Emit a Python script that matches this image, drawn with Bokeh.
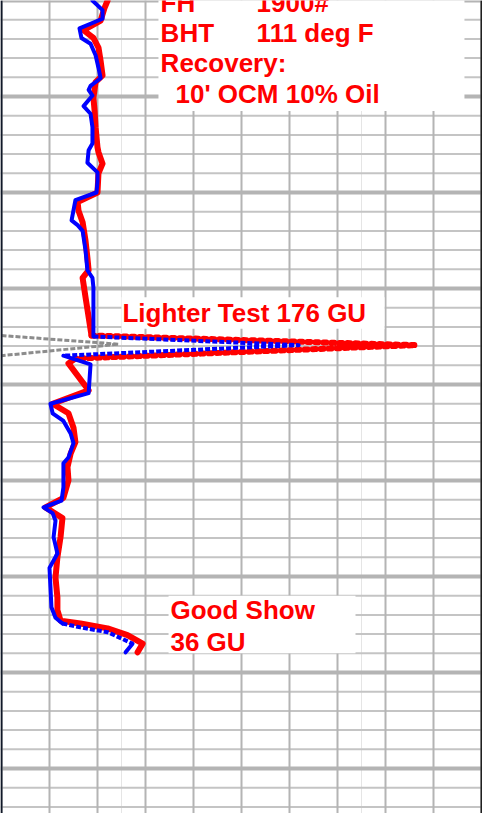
from bokeh.plotting import figure
from bokeh.models import Range1d, Span, ColumnDataSource
from bokeh.core.properties import value
from bokeh.embed import file_html
from bokeh.resources import INLINE

# ---- data (gas units vs depth, ft) ----
blue_gas = [37.9, 42.1, 42.1, 32.5, 33.3, 37.1, 39.2, 40.4, 41.3, 37.1, 36.3, 37.9, 34.2, 37.1,
            37.9, 37.9, 36.3, 35.8, 40.0, 40.0, 39.6, 30.8, 29.2, 31.7, 33.8, 35.0, 35.8, 37.9,
            38.3, 38.3, 123.8, 25.8, 37.1, 36.3, 20.4, 21.3, 25.8, 28.8, 30.0, 27.9, 25.8, 25.8,
            25.0, 17.5, 21.3, 22.5, 21.7, 23.3, 20.0, 20.4, 20.8, 22.5, 25.4, 32.9, 44.2, 50.4,
            54.6, 51.7]
blue_depth = [4250.0, 4251.0, 4251.9, 4252.9, 4253.9, 4254.5, 4255.7, 4257.0, 4258.1, 4258.9,
              4259.3, 4259.9, 4261.0, 4261.8, 4263.2, 4264.9, 4265.6, 4266.9, 4267.9, 4268.8,
              4270.0, 4270.8, 4272.9, 4273.4, 4274.0, 4276.0, 4278.1, 4278.9, 4279.9, 4285.0,
              4285.9, 4287.0, 4287.9, 4290.9, 4292.0, 4293.0, 4293.8, 4295.1, 4296.1, 4297.6,
              4298.2, 4300.7, 4302.1, 4302.8, 4303.4, 4304.2, 4305.9, 4307.6, 4309.1, 4311.1,
              4313.2, 4314.3, 4314.9, 4315.3, 4315.8, 4316.5, 4317.0, 4317.9]
blue_dashed = [(29, 31), (52, 56)]

red_gas = [44.2, 42.9, 41.3, 34.2, 38.3, 40.4, 41.3, 42.1, 39.2, 38.3, 38.8, 39.2, 40.0, 40.4,
           42.1, 40.4, 40.0, 31.7, 32.1, 33.8, 35.0, 35.8, 36.3, 33.8, 35.0, 37.5, 172.5, 30.8,
           27.9, 36.3, 21.3, 27.9, 30.0, 30.8, 28.8, 27.5, 27.9, 25.8, 18.3, 25.4, 24.6, 23.3,
           22.5, 23.3, 23.3, 24.6, 32.9, 44.2, 52.5, 58.8, 56.7]
red_depth = [4250.0, 4250.8, 4252.1, 4253.1, 4253.9, 4254.9, 4256.3, 4257.8, 4258.5, 4260.1,
             4261.5, 4263.2, 4265.3, 4265.8, 4267.0, 4268.0, 4270.0, 4271.0, 4271.9, 4273.1,
             4275.0, 4276.8, 4278.1, 4278.9, 4280.9, 4284.9, 4285.9, 4287.3, 4287.8, 4290.6,
             4292.0, 4293.0, 4294.5, 4296.0, 4297.2, 4298.6, 4300.0, 4301.8, 4302.8, 4303.9,
             4305.9, 4308.0, 4310.1, 4312.2, 4313.5, 4314.6, 4314.9, 4315.4, 4316.1, 4317.0,
             4317.9]
red_dashed = [(25, 27)]

grey_gas = [0.0, 48.8, 0.0]
grey_depth = [4284.9, 4285.8, 4287.0]

gas_ticks = list(range(0, 201, 20))
depth_major = list(range(4250, 4341, 10))
depth_minor = [d for d in range(4250, 4341, 2) if d % 10 != 0]

# annotations
notes = [
    ("FH", 66.3, 4250.25), ("1900#", 106.3, 4250.25),
    ("BHT", 66.3, 4253.4), ("111 deg F", 106.3, 4253.4),
    ("Recovery:", 66.3, 4256.5), ("10' OCM 10% Oil", 72.5, 4259.7),
    ("Lighter Test 176 GU", 50.4, 4282.5),
    ("Good Show", 70.4, 4313.5), ("36 GU", 70.4, 4316.8),
]
boxes_left = [65.4, 50.0, 69.6]
boxes_right = [192.9, 159.6, 147.5]
boxes_top = [4249.0, 4280.9, 4312.0]
boxes_bottom = [4261.5, 4284.2, 4318.0]

X0, X1 = -1 / 2.4, 481 / 2.4
Y_TOP, Y_BOT = 4250.0, 4250.0 + 813 / 9.6

p = figure(width=482, height=813, output_backend="svg", toolbar_location=None,
           x_range=Range1d(X0, X1), y_range=Range1d(Y_BOT, Y_TOP),
           x_axis_location=None, y_axis_location=None, min_border=0,
           outline_line_color=None, background_fill_color="white",
           border_fill_color="white")

# grid drawn as plain segments
p.segment(x0=X0, x1=X1, y0=depth_minor, y1=depth_minor, line_color="#c4c4c4", line_width=2)
p.segment(x0=X0, x1=X1, y0=depth_major, y1=depth_major, line_color="#b4b4b4", line_width=4)
p.segment(x0=gas_ticks, x1=gas_ticks, y0=Y_TOP, y1=Y_BOT, line_color="#b4b4b4", line_width=2)

p.add_layout(Span(location=0, dimension="height", line_color="#101828", line_width=2))
p.add_layout(Span(location=200, dimension="height", line_color="#202020", line_width=2))

p.quad(left=boxes_left, right=boxes_right, top=boxes_top, bottom=boxes_bottom,
       fill_color="white", line_color=None)

p.line(grey_gas, grey_depth, line_color="#8c8c8c", line_width=3, line_dash="5 2")


def draw(gas, depth, dashed, color, width, dash, cap):
    cuts = []
    start = 0
    for a, b in dashed:
        cuts.append((start, a, False))
        cuts.append((a, b, True))
        start = b
    cuts.append((start, len(gas) - 1, False))
    for a, b, is_dash in cuts:
        if b <= a:
            continue
        p.line(gas[a:b + 1], depth[a:b + 1], line_color=color, line_width=width,
               line_join="round", line_cap=cap if is_dash else "round",
               line_dash=dash if is_dash else "solid")


draw(red_gas, red_depth, red_dashed, "#ff0000", 6, "3 5", "round")
draw(blue_gas, blue_depth, blue_dashed, "#0000ff", 4, "5 2", "butt")

src = ColumnDataSource(dict(x=[n[1] for n in notes], y=[n[2] for n in notes],
                            t=[n[0] for n in notes]))
p.text(x="x", y="y", text="t", source=src, text_font=value("Liberation Sans"),
       text_font_style="bold", text_font_size="26px", text_color="#ff0000",
       text_baseline="alphabetic", text_align="left")

open("out.html", "w").write(file_html(p, INLINE))
